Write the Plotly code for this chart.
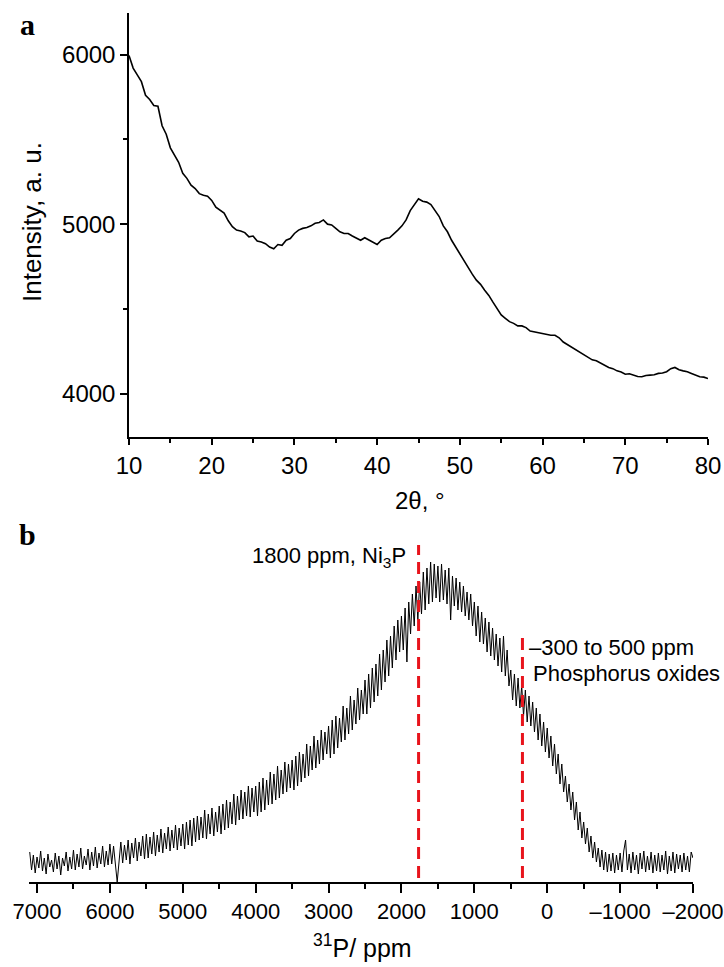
import plotly.graph_objects as go

W, H = 724, 967

# ---------------- Panel a : XRD ----------------
two_theta_start, two_theta_step = 10.0, 0.5
xrd_intensity = [
    5995, 5920, 5880, 5840, 5760, 5735, 5700, 5695, 5580, 5530,
    5450, 5410, 5365, 5300, 5270, 5230, 5210, 5180, 5170, 5165,
    5140, 5100, 5080, 5065, 5020, 4985, 4965, 4960, 4950, 4925,
    4930, 4900, 4895, 4885, 4865, 4855, 4880, 4875, 4905, 4915,
    4945, 4965, 4975, 4980, 4990, 5005, 5010, 5025, 5000, 4995,
    4975, 4955, 4945, 4945, 4930, 4915, 4905, 4920, 4905, 4890,
    4880, 4905, 4915, 4920, 4940, 4965, 4990, 5025, 5080, 5115,
    5150, 5135, 5130, 5115, 5080, 5045, 4990, 4955, 4905, 4865,
    4820, 4785, 4740, 4705, 4670, 4645, 4610, 4580, 4540, 4505,
    4465, 4445, 4425, 4415, 4400, 4400, 4390, 4370, 4365, 4362,
    4355, 4352, 4345, 4345, 4330, 4305, 4290, 4280, 4260, 4250,
    4230, 4218, 4200, 4195, 4180, 4168, 4155, 4148, 4135, 4128,
    4115, 4118, 4110, 4102, 4100, 4108, 4110, 4112, 4120, 4122,
    4130, 4148, 4155, 4142, 4135, 4130, 4120, 4108, 4100, 4098,
    4090,
]
two_theta = [two_theta_start + two_theta_step * i for i in range(len(xrd_intensity))]
xrd_ticks = [10, 20, 30, 40, 50, 60, 70, 80]
xrd_yticks = [4000, 5000, 6000]

# ---------------- Panel b : 31P NMR ----------------
ppm_start, ppm_step = 7100, -25
nmr_intensity = [
    # 7100 .. 6525
    30, 12, 27, 9, 25, 14, 31, 11, 24, 8, 28, 15, 22, 10, 29, 13, 26, 7, 24, 16, 30, 11, 25, 13,
    # 6500 .. 6025
    32, 12, 28, 15, 34, 13, 26, 17, 33, 12, 30, 16, 35, 14, 29, 18, 36, 15, 31, 17,
    # 6000 .. 5525
    38, 18, 36, 15, 0, 20, 40, 19, 37, 22, 42, 18, 39, 24, 44, 21, 40, 26, 46, 23,
    # 5500 .. 5025
    48, 24, 45, 28, 50, 26, 47, 30, 53, 29, 49, 33, 55, 31, 52, 34, 57, 32, 54, 36,
    # 5000 .. 4525
    58, 33, 60, 37, 62, 36, 64, 40, 66, 42, 65, 44, 72, 43, 68, 48, 74, 46, 70, 50,
    # 4500 .. 4025
    76, 48, 78, 52, 82, 54, 80, 58, 88, 57, 86, 62, 92, 63, 90, 66, 96, 65, 94, 70,
    # 4000 .. 3525
    96, 66, 100, 70, 104, 72, 102, 77, 110, 78, 108, 82, 116, 84, 112, 88, 120, 90, 118, 94,
    # 3500 .. 3025
    122, 92, 126, 96, 130, 100, 128, 104, 138, 106, 136, 112, 146, 114, 142, 118, 152, 122, 150, 128,
    # 3000 .. 2525
    156, 124, 162, 128, 166, 134, 164, 140, 176, 142, 174, 148, 186, 152, 182, 158, 194, 162, 192, 168,
    # 2500 .. 2025
    202, 168, 208, 174, 214, 180, 218, 186, 228, 192, 232, 200, 242, 206, 246, 214, 256, 222, 262, 230,
    # 2000 .. 1525
    266, 232, 274, 220, 280, 248, 288, 256, 296, 262, 300, 268, 310, 272, 314, 278, 320, 280, 318, 284,
    # 1500 .. 1025
    316, 280, 318, 282, 312, 278, 314, 262, 306, 276, 304, 272, 300, 270, 296, 266, 290, 262, 288, 256,
    # 1000 .. 525
    280, 246, 276, 240, 270, 238, 264, 230, 260, 226, 254, 222, 248, 216, 244, 210, 246, 206, 232, 196,
    # 500 .. 25
    212, 182, 208, 176, 204, 174, 196, 166, 192, 160, 186, 156, 180, 150, 174, 142, 168, 136, 160, 130,
    # 0 .. -475
    154, 124, 146, 116, 138, 108, 128, 98, 118, 90, 106, 80, 98, 72, 90, 62, 80, 52, 70, 44,
    # -500 .. -975
    60, 38, 54, 30, 46, 24, 40, 20, 34, 15, 32, 12, 30, 10, 28, 11, 29, 9, 27, 12,
    # -1000 .. -1475
    29, 10, 31, 42, 12, 28, 9, 30, 12, 27, 8, 29, 13, 31, 10, 26, 12, 30, 9, 27,
    # -1500 .. -1975
    11, 29, 10, 27, 12, 31, 8, 26, 11, 30, 9, 28, 13, 27, 10, 29, 12, 26, 10, 30,
    # -2000
    24,
]
ppm = [ppm_start + ppm_step * i for i in range(len(nmr_intensity))]
nmr_tickvals = [7000, 6000, 5000, 4000, 3000, 2000, 1000, 0, -1000, -2000]
nmr_ticktext = ["7000", "6000", "5000", "4000", "3000", "2000", "1000", "0", "\u20131000", "\u20132000"]

# reference (red dashed) lines: position in ppm and top height
ref_ppm = [1765, 340]
ref_top = [337, 247]
ref_bottom = 4

FONT = "Arial, Liberation Sans, sans-serif"
SERIF = "Times New Roman, Liberation Serif, serif"


def px(x):
    return x / W


def py(y):
    return 1 - y / H


fig = go.Figure()

fig.add_trace(go.Scatter(
    x=two_theta, y=xrd_intensity, mode="lines",
    line=dict(color="black", width=1.6), xaxis="x", yaxis="y", showlegend=False,
))

fig.add_trace(go.Scatter(
    x=ppm, y=nmr_intensity, mode="lines",
    line=dict(color="black", width=1), xaxis="x2", yaxis="y2", showlegend=False,
))

for p, top in zip(ref_ppm, ref_top):
    fig.add_trace(go.Scatter(
        x=[p, p], y=[ref_bottom, top], mode="lines",
        line=dict(color="#e8141c", width=3, dash="12px,7px"),
        xaxis="x2", yaxis="y2", showlegend=False,
    ))

axis_common = dict(
    showgrid=False, zeroline=False, showline=True, linecolor="black",
    linewidth=1.5, ticks="outside", tickcolor="black", tickwidth=1.5,
    automargin=False,
)

fig.update_layout(
    width=W, height=H,
    margin=dict(l=0, r=0, t=0, b=0, autoexpand=False),
    paper_bgcolor="white", plot_bgcolor="white",
    font=dict(family=FONT, color="black"),
    xaxis=dict(
        **axis_common, domain=[px(129), px(708)], range=[10, 80],
        tickvals=xrd_ticks, ticklen=6, anchor="y",
        tickfont=dict(size=24, family=FONT),
        minor=dict(ticks="outside", ticklen=4, dtick=5, tickcolor="black", tickwidth=1.5),
    ),
    yaxis=dict(
        **axis_common, domain=[py(437), py(13)], range=[3745, 6245],
        tickvals=xrd_yticks, ticklen=7, anchor="x",
        tickfont=dict(size=24, family=FONT),
        minor=dict(ticks="outside", ticklen=4, dtick=500, tickcolor="black", tickwidth=1.5),
    ),
    xaxis2=dict(
        **axis_common, domain=[px(29), px(693)], range=[7110, -2000],
        tickvals=nmr_tickvals, ticktext=nmr_ticktext, ticklen=9, anchor="y2",
        tickfont=dict(size=22, family=FONT),
        minor=dict(ticks="outside", ticklen=5, dtick=500, tickcolor="black", tickwidth=1.5),
    ),
    yaxis2=dict(
        domain=[py(882), py(540)], range=[0, 342], visible=False, anchor="x2",
        showgrid=False, zeroline=False, automargin=False,
    ),
)

annotations = [
    dict(text="<b>a</b>", x=px(27), y=py(24), font=dict(family=SERIF, size=30)),
    dict(text="<b>b</b>", x=px(27), y=py(534), font=dict(family=SERIF, size=30)),
    dict(text="Intensity, a. u.", x=px(32), y=py(222), textangle=-90, font=dict(size=26)),
    dict(text="2\u03b8, \u00b0", x=px(420), y=py(500), font=dict(size=24)),
    dict(text="<sup>31</sup>P/ ppm", x=px(362), y=py(946), font=dict(size=25)),
    dict(text="1800 ppm, Ni<sub>3</sub>P", x=px(408), y=py(557), xanchor="right", font=dict(size=22)),
    dict(text="\u2013300 to 500 ppm", x=px(527), y=py(647), xanchor="left", font=dict(size=22)),
    dict(text="Phosphorus oxides", x=px(531), y=py(673), xanchor="left", font=dict(size=22)),
]
for a in annotations:
    a.setdefault("xanchor", "center")
    a.update(xref="paper", yref="paper", yanchor="middle", showarrow=False)
    fig.add_annotation(**a)

fig.write_html(
    "out.html",
    config={"displayModeBar": False},
    post_script="document.body.style.margin='0';document.body.style.overflow='hidden';",
)
